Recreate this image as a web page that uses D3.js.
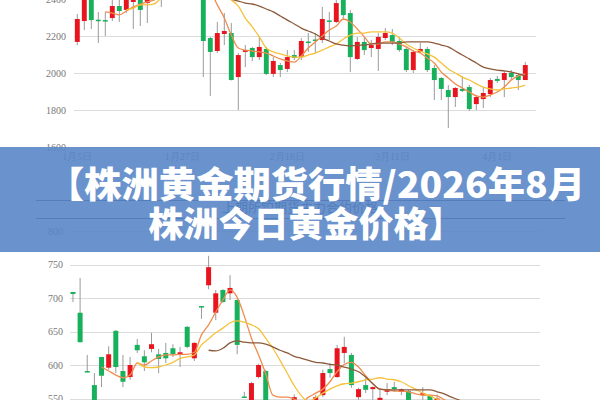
<!DOCTYPE html>
<html><head><meta charset="utf-8">
<script src="https://cdn.jsdelivr.net/npm/d3@7"></script>
<style>html,body{margin:0;padding:0;background:#fff;overflow:hidden}svg{display:block}</style>
</head><body>
<svg id="c" width="600" height="400"></svg>
<script>
// ---------- top chart (gold) : [open, close, low, high] ----------
const topOHLC = [
[2168,2292,2151,2319],[2281,2440,2232,2470],[2420,2286,2238,2450],[2288,2280,2162,2330],[2286,2278,2200,2330],
[2297,2362,2281,2395],[2362,2335,2276,2410],[2341,2405,2324,2440],[2384,2405,2238,2440],[2422,2341,2254,2450],
[2378,2410,2270,2440],[2420,2460,2405,2480],[2440,2470,2357,2490],[2470,2510,2440,2530],[2505,2490,2460,2540],
[2490,2530,2470,2560],[2530,2500,2450,2550],[2500,2520,2430,2540],[2520,2173,1978,2530],[2189,2114,1876,2195],
[2119,2216,2108,2276],[2211,2227,2151,2324],[2216,1962,1960,2270],[1978,2097,1800,2108],[2114,2124,2032,2151],
[2135,2086,2065,2141],[2086,2141,2070,2200],[2130,1995,1989,2141],[1995,2065,1978,2086],[2043,2016,1978,2054],
[2022,2086,2005,2124],[2097,2081,2070,2124],[2086,2173,2070,2189],[2170,2162,2114,2216],[2181,2173,2108,2216],
[2178,2292,2162,2357],[2284,2276,2178,2330],[2276,2378,2270,2410],[2440,2313,2286,2460],[2324,2086,2005,2341],
[2076,2168,2070,2195],[2168,2124,2097,2195],[2135,2151,2086,2178],[2130,2195,2011,2216],[2189,2216,2178,2243],
[2205,2168,2151,2238],[2173,2124,2114,2195],[2130,2016,2005,2141],[2016,2114,2000,2124],[2114,2130,2108,2162],
[2130,2016,2005,2141],[2027,1962,1854,2043],[1973,1914,1854,1978],[1908,1870,1703,1935],[1870,1919,1816,1924],
[1914,1903,1897,1984],[1924,1805,1795,1935],[1832,1870,1800,1881],[1859,1892,1811,1924],[1886,1962,1870,1973],
[1968,1957,1946,1984],[1962,2000,1870,2011],[2000,1978,1962,2016],[1989,1962,1908,2000],[1962,2043,1962,2059]
];
const topMA5 = [null,null,null,null,2330,2324,2314,2335,2357,2373,2384,2395,2411,2430,2450,2460,2470,2470,2450,2438,
2368,2297,2205,2135,2124,2119,2114,2108,2092,2076,2065,2059,2092,2135,2168,2200,2232,2254,2292,2276,
2238,2195,2157,2157,2168,2168,2157,2141,2119,2108,2081,2054,2005,1973,1941,1919,1897,1876,1870,1881,
1897,1924,1962,1984,1995];
const topMA10 = [null,null,null,null,null,null,null,2341,2351,2368,2368,2373,2405,2420,2435,2445,2455,2460,2460,2455,
2445,2430,2395,2362,2297,2249,2195,2135,2114,2103,2092,2086,2086,2097,2108,2124,2141,2157,2184,2205,
2216,2216,2222,2222,2222,2216,2189,2157,2135,2119,2103,2086,2054,2022,2000,1978,1962,1941,1924,1914,
1908,1914,1919,1924,1935];
const topMA20 = [null,null,null,null,null,null,null,null,null,null,null,null,null,null,null,null,null,null,null,2470,
2460,2440,2400,2389,2378,2373,2362,2346,2330,2308,2286,2265,2243,2227,2211,2189,2173,2157,2151,2146,
2151,2151,2157,2162,2162,2162,2162,2168,2168,2168,2168,2162,2151,2141,2119,2097,2076,2054,2032,2022,
2016,2011,2005,1995,1984];
const topYTicks = [1600,1800,2000,2200,2400];
const topXLabels = ["1月5日","1月27日","2月18日","3月11日","4月1日"];
const topXLabelIdx = [0,15,30,45,60];

// ---------- bottom chart (platinum) ----------
const botOHLC = [
[709,706,694,709],[678,634,634,730],[591,590,589,615],[570,545,540,588],[612,584,567,612],
[596,616,593,628],[651,597,588,652],[591,575,567,615],[582,600,578,612],[630,622,618,639],
[613,604,591,622],[624,631,619,648],[616,609,588,624],[618,610,603,633],[625,616,612,631],
[616,619,597,627],[657,627,625,658],[610,633,606,634],[688,686,669,688],[719,746,713,763],
[678,707,667,712],[712,694,693,713],[707,715,697,734],[697,630,616,698],[553,551,551,560],
[545,573,540,575],[582,600,580,602],[591,540,535,593],[535,525,515,540],[525,530,515,540],
[530,520,510,540],[535,552,530,556],[540,530,525,545],[530,540,525,546],[535,552,530,555],
[555,588,552,593],[594,588,581,603],[582,625,581,630],[618,627,603,642],[615,570,566,618],
[552,564,548,566],[570,563,558,581],[564,567,548,568],[540,551,535,563],[560,564,555,573],
[567,564,560,575],[560,564,555,565],[561,540,535,563],[540,535,530,546],[555,558,545,567],
[554,545,540,556],[545,550,540,556],[540,530,525,546],[530,535,520,545],[535,525,520,540],
[525,530,515,538]
];
const botMA5 = [null,null,null,null,597,591,585,581,585,603,600,606,612,615,615,616,616,619,645,660,
679,697,712,701,673,640,615,587,555,552,552,549,545,552,558,564,575,590,601,604,
597,584,572,564,563,561,561,560,557,555,555,554,548,544,540,536];
const botMA10 = [null,null,null,null,null,null,null,null,null,604,597,596,597,600,604,610,612,615,630,639,
648,655,663,666,664,660,654,640,625,607,588,569,554,545,551,558,564,569,572,573,
575,578,579,581,579,578,575,569,564,558,554,549,545,541,537,533];
const botMA20 = [null,null,null,null,null,null,null,null,null,null,null,null,null,null,null,null,null,null,null,622,
621,625,633,636,634,633,633,631,627,622,618,613,610,607,604,603,601,600,597,594,
590,582,572,564,563,563,563,563,563,563,563,560,557,552,548,543];
const botYTicks = [550,600,650,700,750,800];
const botTitle = "上期所铂期货主力合约价格";

const titleLines = ["【株洲黄金期货行情/2026年8月","株洲今日黄金价格】"];

// ---------- drawing ----------
const svg = d3.select("#c");
svg.append("rect").attr("width",600).attr("height",400).attr("fill","#fff");

const UP = "#e8141e", DOWN = "#17b15b", WICK = "#9a9a9a";
const MA_COLORS = ["#ef8c4f", "#f6c23c", "#8c5a3a"];
const serif = "'Liberation Serif','DejaVu Serif',serif";

function drawChart(g, ohlc, mas, x, y, x0, x1, ticks, labelX) {
  g.append("g").selectAll("line").data(ticks).join("line")
    .attr("x1", x0).attr("x2", x1)
    .attr("y1", d => Math.round(y(d)) + 0.5).attr("y2", d => Math.round(y(d)) + 0.5)
    .attr("stroke", "#dcdcdc").attr("stroke-width", 1);
  const ax = d3.axisLeft(y).tickValues(ticks).tickSize(0).tickPadding(0).tickFormat(d3.format("d"));
  const ag = g.append("g").attr("transform", `translate(${labelX},0)`).call(ax);
  ag.select(".domain").remove();
  ag.selectAll("text").attr("fill", "#777").style("font-family", serif).style("font-size", "10px");

  const bw = x.bandwidth() * 0.7;
  const c = g.append("g");
  ohlc.forEach((d, i) => {
    const cx = x(i) + x.bandwidth() / 2;
    const [o, cl, lo, hi] = d;
    c.append("line").attr("x1", cx).attr("x2", cx).attr("y1", y(hi)).attr("y2", y(lo))
      .attr("stroke", WICK).attr("stroke-width", 1);
    const top = y(Math.max(o, cl)), bot = y(Math.min(o, cl));
    c.append("rect").attr("x", cx - bw / 2).attr("width", bw)
      .attr("y", top).attr("height", Math.max(1.5, bot - top))
      .attr("fill", cl >= o ? UP : DOWN);
  });
  mas.forEach((arr, k) => {
    const line = d3.line().defined(v => v != null)
      .x((v, i) => x(i) + x.bandwidth() / 2).y(v => y(v)).curve(d3.curveMonotoneX);
    g.append("path").datum(arr).attr("d", line).attr("fill", "none")
      .attr("stroke", MA_COLORS[k]).attr("stroke-width", 1.3);
  });
}

// top chart
const xTop = d3.scaleBand().domain(d3.range(66)).range([73.8, 535.8]);
const yTop = d3.scaleLinear().domain([1600, 2400]).range([147, -1]);
const gTop = svg.append("g");
drawChart(gTop, topOHLC, [topMA5, topMA10, topMA20], xTop, yTop, 74, 536, topYTicks, 66);
const xa = d3.axisBottom(xTop).tickValues(topXLabelIdx).tickSize(0).tickPadding(0)
  .tickFormat(i => topXLabels[topXLabelIdx.indexOf(i)]);
const xag = gTop.append("g").attr("transform", "translate(0,153)").call(xa);
xag.select(".domain").remove();
xag.selectAll("text").attr("fill", "#777").style("font-family", serif).style("font-size", "10px");

// bottom chart
const xBot = d3.scaleBand().domain(d3.range(66)).range([69.4, 540.6]);
const yBot = d3.scaleLinear().domain([550, 800]).range([398.5, 231]);
const gBot = svg.append("g");
gBot.append("line").attr("x1", 36).attr("x2", 565).attr("y1", 200.5).attr("y2", 200.5).attr("stroke", "#1f2f4f").attr("stroke-width", 1);
gBot.append("line").attr("x1", 36).attr("x2", 565).attr("y1", 218.5).attr("y2", 218.5).attr("stroke", "#1f2f4f").attr("stroke-width", 1);
gBot.append("text").attr("x", 300).attr("y", 212).attr("text-anchor", "middle")
  .attr("fill", "#1f2f4f").style("font-family", "'Noto Sans CJK SC',sans-serif").style("font-size", "13px")
  .text(botTitle);
drawChart(gBot, botOHLC, [botMA5, botMA10, botMA20], xBot, yBot, 70, 540, botYTicks, 63);

// banner overlay
svg.append("rect").attr("x", 0).attr("y", 147).attr("width", 600).attr("height", 105)
  .attr("fill", "#5a86c6").attr("opacity", 0.9);
const tg = svg.append("g").style("font-family", "'Noto Sans CJK SC','Noto Sans CJK JP',sans-serif")
  .style("font-weight", "900").attr("fill", "#fff").attr("text-anchor", "middle");
tg.append("text").attr("x", 316).attr("y", 198).style("font-size", "36px")
  .attr("textLength", 538).attr("lengthAdjust", "spacingAndGlyphs").text(titleLines[0]);
tg.append("text").attr("x", 306).attr("y", 237).style("font-size", "35px").text(titleLines[1]);
</script>
</body></html>
